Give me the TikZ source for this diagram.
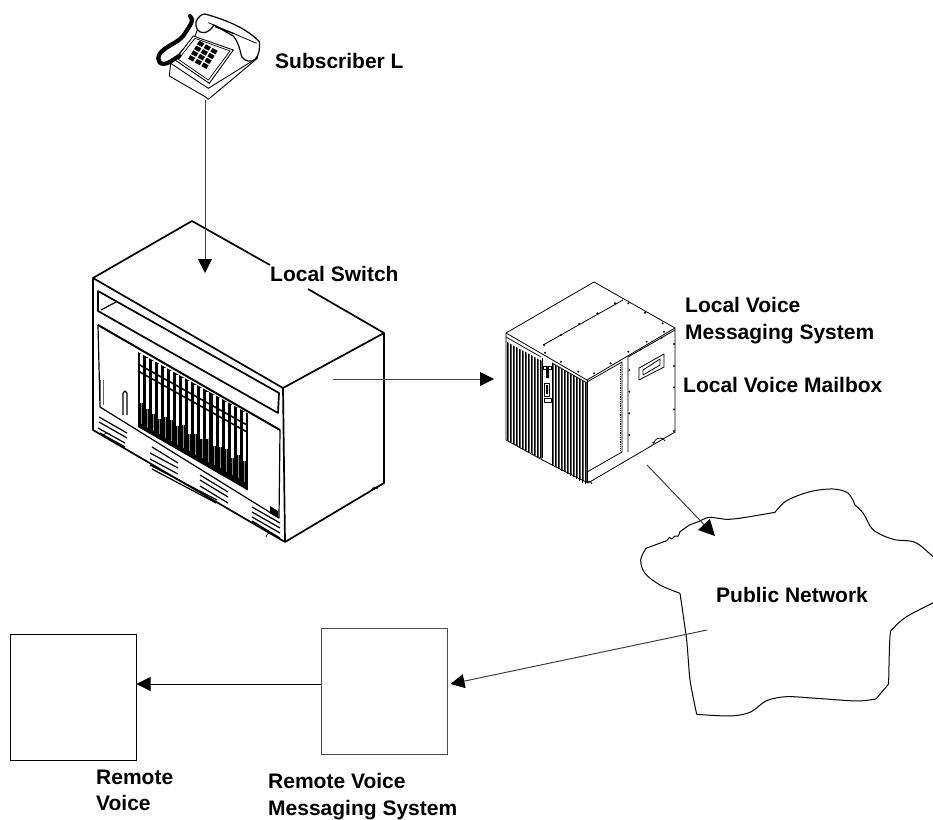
\documentclass[tikz,border=0pt]{standalone}
\usepackage{fontspec}
\setmainfont{Liberation Sans}
\usetikzlibrary{arrows.meta,calc}
\tikzset{
  lbl/.style={anchor=base west,inner sep=0pt,font=\fontsize{21}{25}\selectfont\bfseries},
  conn/.style={draw=black!75,line width=1pt,-{Triangle[length=14pt,width=14pt,black]}},
  bigconn/.style={draw=black!75,line width=1pt,-{Triangle[length=16pt,width=16pt,black]}},
  sq/.style={draw,minimum size=126pt,inner sep=0pt,outer sep=0pt},
  heavy/.style={line width=1.7pt,line join=round},
  medium/.style={line width=1.2pt,line join=round},
  light/.style={line width=0.7pt,line join=round},
  stud/.style={fill=black},
}
\begin{document}
\begin{tikzpicture}[x=1pt,y=-1pt]
\clip (0,0) rectangle (933,819);
\fill[white] (0,0) rectangle (933,819);

% ---------- telephone (coordinates of the 3x crop)
\begin{scope}[shift={(140,0)},x=0.3333pt,y=-0.3333pt]
  \draw[line width=0.9pt,line join=round,fill=white]
    (88,228) -- (92,190) -- (108,172) -- (165,108) -- (190,45) -- (355,125) -- (352,175)
    -- (205,298) -- (195,290) -- cycle;
  \draw[line width=0.9pt] (92,190) -- (205,265) -- (350,175);
  \draw[line width=0.9pt,fill=white] (160,108) -- (280,150) -- (208,250) -- (105,180) -- cycle;
  \draw[line width=0.7pt] (165,115) -- (270,153) -- (205,240) -- (115,178) -- cycle;
  \draw[line width=1.2pt,fill=white,line join=round]
    (168,65) .. controls (175,50) and (185,42) .. (195,42)
    .. controls (260,60) and (320,85) .. (358,125)
    .. controls (360,145) and (358,165) .. (345,178)
    .. controls (335,188) and (315,185) .. (305,170)
    .. controls (300,150) and (295,125) .. (280,108)
    .. controls (265,100) and (240,85) .. (222,75)
    .. controls (215,85) and (205,98) .. (190,98)
    .. controls (175,98) and (165,85) .. (168,65) -- cycle;
  \draw[line width=0.8pt] (205,68) -- (350,130);
  \draw[line width=1.2pt] (225,80) -- (280,100);
  \draw[line width=4.2pt,line cap=round]
    (150,48) .. controls (165,60) and (150,75) .. (135,100)
    .. controls (120,125) and (95,130) .. (70,150)
    .. controls (50,165) and (50,190) .. (70,192)
    .. controls (85,192) and (100,178) .. (118,168);
\end{scope}
\foreach \i in {0,1,2}\foreach \j in {0,1,2,3}{
  \fill ($(199.3,40.7)+\i*(6.67,3.67)+\j*(-3,4.83)$) -- ++(5,2.75) -- ++(-2.25,3.6) -- ++(-5,-2.75) -- cycle;
}

% ---------- local switch
\draw[heavy] (270,265) -- (192,221) -- (93,278) -- (93,430) -- (285,542) -- (283,388);
\draw[heavy] (93,278) -- (283,388) -- (384,333) -- (308,289);
\draw[heavy] (384,333) -- (384,483) -- (285,542);
\draw[heavy] (98,291) -- (279,393) -- (278,413) -- (98,311) -- cycle;
\draw[medium] (101,310) -- (116,302);
\draw[line width=2pt] (98,325) -- (280,430);
\draw[medium] (98,325) -- (100,407) -- (279,518) -- (280,430);
\fill (138,352) -- (247,413) -- (247,490) -- (138,427) -- cycle;
\foreach \i/\l in {0/50,1/52,2/54,3/56,4/50,5/50,6/52,7/48,8/54,9/50,10/52,11/48,12/52,13/50,14/48,15/54,16/48,17/50}{
  \pgfmathsetmacro{\xx}{138.5+6.05*\i}
  \pgfmathsetmacro{\yy}{353+0.56*(\xx-138)}
  \fill[white] (\xx+1.4,\yy+1) rectangle (\xx+4.4,\yy+\l);
  \draw[black!45,line width=0.6pt] (\xx+2.8,\yy+\l) -- (\xx+2.8,\yy+71);
}
\draw[line width=1.6pt] (138,364) -- (247,425);
\draw[line width=1.6pt] (138,371) -- (247,432);
\draw[line width=1pt] (247,413) -- (247,490);
\draw[light,black!60] (103,380) -- (103,405) (100,380) -- (100,405);
\draw[medium] (123,393) -- (123,415) (127,393) -- (127,415) (123,393) -- (125,391) -- (127,393);
\foreach \a/\b/\c/\d in {99/417/127/433, 99/422/127/438, 98/428/125/443, 100/433/125/447,
   152/447/178/463, 150/453/178/468, 150/459/178/474, 150/465/217/500, 152/469/216/503,
   200/475/228/492, 200/480/228/497, 200/486/228/503,
   252/507/280/523, 252/512/280/528, 252/517/280/533, 252/521/280/538}{
  \draw[medium] (\a,\b) -- (\c,\d);
}
\draw[light] (103,437) arc[start angle=180,end angle=340,radius=4];
\draw[light] (266,537) arc[start angle=180,end angle=340,radius=4];
\fill (270,506) -- (278,511) -- (278,518) -- (270,513) -- cycle;
\draw[light] (372,490) arc[start angle=180,end angle=340,radius=3];

% ---------- local voice messaging system
\begin{scope}[line width=0.8pt,line join=round]
  \foreach \xa/\xb/\ya/\yb/\za/\zb in {507/542/342/361/440/459, 552/587/363/383/465/483}{
    \fill[black!65] (\xa,\ya) -- (\xb,\yb) -- (\xb,\zb) -- (\xa,\za) -- cycle;
    \pgfmathsetmacro{\slope}{(\yb-\ya)/(\xb-\xa)}
    \foreach \k in {0,...,11}{
      \pgfmathsetmacro{\px}{\xa+\k*3+0.8}
      \draw[line width=0.8pt] (\px,{\ya+\slope*(\px-\xa)}) -- (\px,{\za+\slope*(\px-\xa)});
      \pgfmathsetmacro{\qx}{\xa+\k*3+2.2}
      \draw[white,line width={mod(\k,3)==0 ? 0.6pt : 0.2pt}] (\qx,{\ya+\slope*(\qx-\xa)}) -- (\qx,{\za+\slope*(\qx-\xa)});
    }
  }
  \draw (587,380) -- (506,333) -- (594,282) -- (675,328) -- (587,380);
  \draw (506,337) -- (541,357) (552,363) -- (587,383);
  \draw (543,345) -- (623,300);
  \draw (506,333) -- (506,440) -- (537,457) -- (552,465) -- (588,483) -- (675,432) -- (675,328);
  \draw (542,358) -- (542,458) (552,363) -- (552,465);
  \draw (587,380) -- (587,483);
  \draw (587,472) -- (622,452) -- (622,362) -- (587,382);
  \draw (628,357) -- (675,330) (628,357) -- (628,452);
  \draw (639,368) -- (664,354) -- (664,367) -- (639,380) -- cycle;
  \draw (643,370) -- (660,359) -- (660,365) -- (643,375) -- cycle;
  \draw[densely dotted] (620,365) -- (620,450);
  \draw (543,366) rectangle (551,369) (544,383) rectangle (549,396) (544,398) rectangle (551,402);
  \fill (546,367) rectangle (549,378) (546,385) rectangle (548,394);
  \draw (585,484) arc[start angle=190,end angle=350,radius=3.5];
  \draw (654,443) arc[start angle=190,end angle=330,radius=6];
\end{scope}
\foreach \a/\b in {375/100,322/130,268/162,213/195,163/225,165/248,213/275,265/305,312/310,362/280,
   415/245,452/238,470/215,515/203,522/185,465/128,415/100,518/160,552/222,552/288,552/352,552/418,
   552/483,490/518,418/495,418/430,418/365,418/300}{
  \fill[stud] ($(490,270)+(\a/3,\b/3)$) circle[radius=1.1];
}

% ---------- public network
\begin{scope}[shift={(630,480)},x=0.3333pt,y=-0.3333pt,line width=1pt,line join=round]
  \draw plot[smooth,tension=0.55] coordinates {(150,340) (90,315) (45,280) (32,240) (48,205)};
  \draw (48,205) -- (110,182) -- (118,172) -- (125,177) -- (135,168) -- (145,168) -- (150,155) -- (178,135);
  \draw plot[smooth,tension=0.5] coordinates {(178,135) (205,125) (238,112) (290,118) (340,113) (435,97)};
  \draw plot[smooth,tension=0.55] coordinates {(435,97) (470,62) (540,35) (610,27) (655,40) (675,75)};
  \draw plot[smooth,tension=0.55] coordinates {(675,75) (700,100) (730,150) (790,178) (855,187) (910,230) (950,260)};
  \draw plot[smooth,tension=0.55] coordinates {(950,345) (910,368) (830,410) (790,445) (780,470) (776,612)};
  \draw (776,612) -- (738,657);
  \draw plot[smooth,tension=0.5] coordinates {(738,657) (680,663) (560,655) (470,650) (410,662) (360,697) (300,708) (200,703)};
  \draw plot[smooth,tension=0.4] coordinates {(200,703) (180,600) (170,480) (150,340)};
\end{scope}

% ---------- boxes
\node[sq] (box1) at (73.5,697) {};
\node[sq,draw=black!70] (box2) at (384,691) {};

% ---------- free ends of connectors
\coordinate (phonebase) at (205,100);
\coordinate (switchin) at (205,273);
\coordinate (switchout) at (333,379);
\coordinate (vmsin) at (494,379);
\coordinate (vmsout) at (647,465);
\coordinate (netin) at (715,536);
\coordinate (netout) at (707,630);

\draw[conn] (phonebase) -- (switchin);
\draw[conn] (switchout) -- (vmsin);
\draw[bigconn] (vmsout) -- (netin);
\draw[conn] (netout) -- ([xshift=3.5pt,yshift=7pt]box2.east);
\draw[conn,draw=black] ([yshift=7pt]box2.west) -- ([yshift=13pt]box1.east);

% ---------- labels
\node[lbl] (lsub) at (275,68) {Subscriber L};
\node[lbl] (lsw) at (270,281) {Local Switch};
\node[lbl] (lv1) at (685,312) {Local Voice};
\node[lbl] (lv2) at (685,339) {Messaging System};
\node[lbl] (lmb) at (683,392) {Local Voice Mailbox};
\node[lbl] (lnet) at (716,602) {Public Network};
\node[lbl] (lr1) at (96,784) {Remote};
\node[lbl] (lr2) at (96,810) {Voice};
\node[lbl] (lr3) at (268,788) {Remote Voice};
\node[lbl] (lr4) at (268,815) {Messaging System};
\end{tikzpicture}
\end{document}
